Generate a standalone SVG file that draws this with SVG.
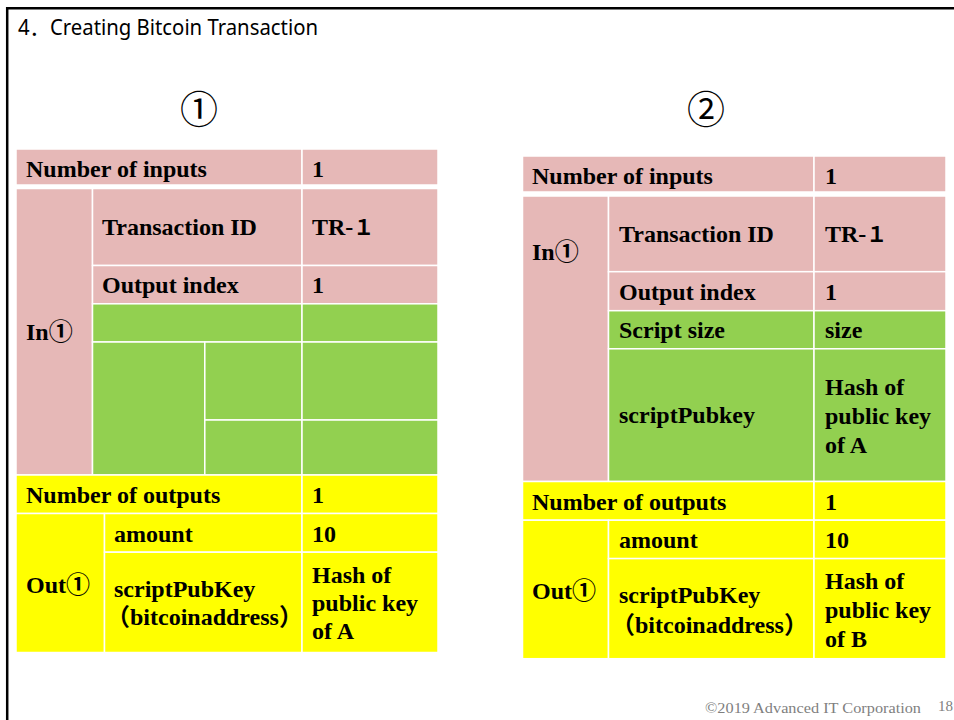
<svg xmlns="http://www.w3.org/2000/svg" width="954" height="720" viewBox="0 0 954 720">
  <style>
    .pk { fill: #E6B8B7; stroke: #FFFFFF; stroke-width: 1.5; }
    .gr { fill: #92D050; stroke: #FFFFFF; stroke-width: 1.5; }
    .ye { fill: #FFFF00; stroke: #FFFFFF; stroke-width: 1.5; }
    .t  { font-family: "Liberation Serif", "Noto Sans CJK JP", serif; font-weight: bold; font-size: 24px; fill: #000000; }
    .w  { font-family: "Noto Sans CJK JP", sans-serif; font-weight: bold; font-size: 21px; }
    .title { font-family: "Noto Sans", "Open Sans", "Noto Sans CJK JP", sans-serif; font-size: 21px; fill: #000000; }
    .num { font-family: "Noto Sans CJK JP", sans-serif; font-size: 38px; fill: #000000; text-anchor: middle; }
    .foot { font-family: "Liberation Serif", serif; font-size: 15px; fill: #7F7F7F; }
  </style>

  <rect x="0" y="0" width="954" height="720" fill="#FFFFFF"/>

  <!-- slide frame -->
  <g id="frame">
    <path d="M7.2 720 V8.2 H954" fill="none" stroke="#000000" stroke-width="2.5"/>
  </g>

  <g id="title">
    <text class="title" x="18" y="35" textLength="300" lengthAdjust="spacingAndGlyphs">4．Creating Bitcoin Transaction</text>
  </g>

  <g id="label-1"><text class="num" x="199" y="123">①</text></g>
  <g id="label-2"><text class="num" x="706" y="123">②</text></g>

  <!-- transaction ① -->
  <g id="table-1">
    <rect class="pk" x="16" y="149" width="286" height="36"/>
    <rect class="pk" x="302" y="149" width="136" height="36"/>
    <rect class="pk" x="16" y="188.5" width="76.5" height="286.5"/>
    <rect class="pk" x="92.5" y="188.5" width="209.5" height="77"/>
    <rect class="pk" x="302" y="188.5" width="136" height="77"/>
    <rect class="pk" x="92.5" y="265.5" width="209.5" height="38.3"/>
    <rect class="pk" x="302" y="265.5" width="136" height="38.3"/>
    <rect class="gr" x="92.5" y="303.8" width="209.5" height="38.2"/>
    <rect class="gr" x="302" y="303.8" width="136" height="38.2"/>
    <rect class="gr" x="92.5" y="342" width="112.3" height="133"/>
    <rect class="gr" x="204.8" y="342" width="97.2" height="78"/>
    <rect class="gr" x="302" y="342" width="136" height="78"/>
    <rect class="gr" x="204.8" y="420" width="97.2" height="55"/>
    <rect class="gr" x="302" y="420" width="136" height="55"/>
    <rect class="ye" x="16" y="475" width="286" height="38.5"/>
    <rect class="ye" x="302" y="475" width="136" height="38.5"/>
    <rect class="ye" x="16" y="513.5" width="88.5" height="139"/>
    <rect class="ye" x="104.5" y="513.5" width="197.5" height="38.7"/>
    <rect class="ye" x="302" y="513.5" width="136" height="38.7"/>
    <rect class="ye" x="104.5" y="552.2" width="197.5" height="100.3"/>
    <rect class="ye" x="302" y="552.2" width="136" height="100.3"/>

    <text class="t" x="26" y="177">Number of inputs</text>
    <text class="t" x="312" y="177">1</text>
    <text class="t" x="26" y="340">In①</text>
    <text class="t" x="102" y="235">Transaction ID</text>
    <text class="t" x="312" y="235">TR-<tspan class="w">１</tspan></text>
    <text class="t" x="102" y="293">Output index</text>
    <text class="t" x="312" y="293">1</text>
    <text class="t" x="26" y="503">Number of outputs</text>
    <text class="t" x="312" y="503">1</text>
    <text class="t" x="26" y="593">Out①</text>
    <text class="t" x="114" y="542">amount</text>
    <text class="t" x="312" y="542">10</text>
    <text class="t" x="114" y="597">scriptPubKey</text>
    <text class="t" x="106" y="625">（bitcoinaddress）</text>
    <text class="t" x="312" y="583">Hash of</text>
    <text class="t" x="312" y="611">public key</text>
    <text class="t" x="312" y="639">of A</text>
  </g>

  <!-- transaction ② -->
  <g id="table-2">
    <rect class="pk" x="522.5" y="156" width="291.5" height="36"/>
    <rect class="pk" x="814" y="156" width="132" height="36"/>
    <rect class="pk" x="522.5" y="196" width="86" height="285.5"/>
    <rect class="pk" x="608.5" y="196" width="205.5" height="75.7"/>
    <rect class="pk" x="814" y="196" width="132" height="75.7"/>
    <rect class="pk" x="608.5" y="271.7" width="205.5" height="39"/>
    <rect class="pk" x="814" y="271.7" width="132" height="39"/>
    <rect class="gr" x="608.5" y="310.7" width="205.5" height="38.1"/>
    <rect class="gr" x="814" y="310.7" width="132" height="38.1"/>
    <rect class="gr" x="608.5" y="348.8" width="205.5" height="132.7"/>
    <rect class="gr" x="814" y="348.8" width="132" height="132.7"/>
    <rect class="ye" x="522.5" y="481.5" width="291.5" height="38.7"/>
    <rect class="ye" x="814" y="481.5" width="132" height="38.7"/>
    <rect class="ye" x="522.5" y="520.2" width="86" height="138.5"/>
    <rect class="ye" x="608.5" y="520.2" width="205.5" height="38.4"/>
    <rect class="ye" x="814" y="520.2" width="132" height="38.4"/>
    <rect class="ye" x="608.5" y="558.6" width="205.5" height="100.1"/>
    <rect class="ye" x="814" y="558.6" width="132" height="100.1"/>

    <text class="t" x="532" y="184">Number of inputs</text>
    <text class="t" x="825" y="184">1</text>
    <text class="t" x="532" y="260">In①</text>
    <text class="t" x="619" y="242">Transaction ID</text>
    <text class="t" x="825" y="242">TR-<tspan class="w">１</tspan></text>
    <text class="t" x="619" y="300">Output index</text>
    <text class="t" x="825" y="300">1</text>
    <text class="t" x="619" y="338">Script size</text>
    <text class="t" x="825" y="338">size</text>
    <text class="t" x="619" y="423">scriptPubkey</text>
    <text class="t" x="825" y="395">Hash of</text>
    <text class="t" x="825" y="424">public key</text>
    <text class="t" x="825" y="453">of A</text>
    <text class="t" x="532" y="510">Number of outputs</text>
    <text class="t" x="825" y="510">1</text>
    <text class="t" x="532" y="599">Out①</text>
    <text class="t" x="619" y="548">amount</text>
    <text class="t" x="825" y="548">10</text>
    <text class="t" x="619" y="603">scriptPubKey</text>
    <text class="t" x="611" y="633">（bitcoinaddress）</text>
    <text class="t" x="825" y="589">Hash of</text>
    <text class="t" x="825" y="618">public key</text>
    <text class="t" x="825" y="647">of B</text>
  </g>

  <g id="footer">
    <text class="foot" x="705" y="713" textLength="216" lengthAdjust="spacingAndGlyphs">©2019  Advanced IT Corporation</text>
    <text class="foot" x="938" y="711" font-size="14">18</text>
  </g>
</svg>
